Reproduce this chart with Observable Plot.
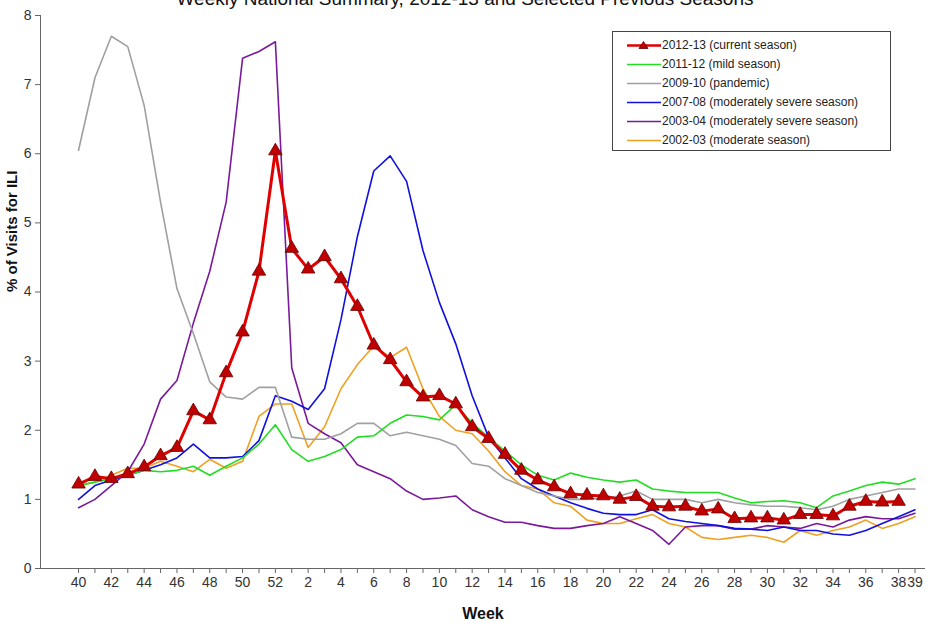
<!DOCTYPE html>
<html>
<head>
<meta charset="utf-8">
<script src="https://cdn.jsdelivr.net/npm/d3@7"></script>
<script src="https://cdn.jsdelivr.net/npm/@observablehq/plot@0.6"></script>
<style>
  body { margin: 0; background: #fff; font-family: "Liberation Sans", Arial, sans-serif; }
  #wrap { position: relative; width: 930px; height: 631px; overflow: hidden; }
  #title { position: absolute; top: -12px; left: 0; width: 930px; text-align: center; font-size: 19px; color: #111; }
  #legend { position: absolute; left: 612px; top: 31px; width: 279px; height: 120px; border: 1px solid #444; background: #fff; box-sizing: border-box; padding-top: 3px; }
  .li { display: flex; align-items: center; height: 19px; font-size: 12px; color: #222; }
  .li svg { margin-left: 14px; margin-right: 1px; }
</style>
</head>
<body>
<div id="wrap">
  <div id="chart"></div>
  <div id="title">Weekly National Summary, 2012-13 and Selected Previous Seasons</div>
  <div id="legend"></div>
</div>
<script>
// week order: 40..52 then 1..39
const weeks = [...d3.range(40, 53), ...d3.range(1, 40)];

const s2012 = [1.22,1.33,1.30,1.37,1.47,1.63,1.75,2.28,2.15,2.83,3.42,4.30,6.04,4.63,4.33,4.51,4.19,3.79,3.23,3.02,2.70,2.48,2.50,2.38,2.05,1.88,1.65,1.42,1.28,1.18,1.08,1.06,1.05,1.00,1.04,0.90,0.89,0.90,0.83,0.86,0.72,0.73,0.73,0.70,0.78,0.78,0.76,0.90,0.97,0.96,0.97];
const s2011 = [1.2,1.25,1.3,1.35,1.42,1.4,1.42,1.48,1.35,1.48,1.6,1.8,2.08,1.72,1.55,1.62,1.72,1.9,1.92,2.1,2.22,2.2,2.15,2.37,2.1,1.9,1.7,1.5,1.35,1.28,1.38,1.32,1.28,1.25,1.28,1.15,1.12,1.1,1.1,1.1,1.02,0.95,0.97,0.98,0.95,0.88,1.05,1.12,1.2,1.25,1.22,1.3];
const s2009 = [6.05,7.1,7.7,7.55,6.7,5.3,4.05,3.4,2.7,2.48,2.45,2.62,2.62,1.9,1.87,1.87,1.95,2.1,2.1,1.92,1.97,1.92,1.87,1.78,1.52,1.48,1.3,1.2,1.1,1.05,1.0,1.0,1.02,1.05,1.12,1.0,1.0,1.0,0.95,1.0,0.95,0.92,0.9,0.9,0.88,0.85,0.9,1.0,1.05,1.1,1.15,1.15];
const s2007 = [1.0,1.2,1.28,1.35,1.42,1.5,1.6,1.8,1.6,1.6,1.62,1.85,2.5,2.42,2.3,2.6,3.6,4.8,5.75,5.97,5.6,4.6,3.85,3.25,2.5,1.9,1.6,1.3,1.15,1.05,0.95,0.87,0.8,0.78,0.78,0.85,0.72,0.68,0.65,0.62,0.58,0.57,0.55,0.6,0.55,0.55,0.5,0.48,0.55,0.65,0.75,0.85];
const s2003 = [0.88,1.0,1.2,1.4,1.8,2.45,2.72,3.55,4.3,5.3,7.38,7.48,7.62,2.9,2.1,1.95,1.82,1.5,1.4,1.3,1.12,1.0,1.02,1.05,0.85,0.75,0.67,0.67,0.62,0.58,0.58,0.62,0.65,0.75,0.65,0.55,0.35,0.6,0.62,0.62,0.57,0.57,0.62,0.6,0.58,0.65,0.6,0.7,0.75,0.72,0.72,0.8];
const s2002 = [1.2,1.25,1.35,1.45,1.45,1.55,1.48,1.4,1.58,1.45,1.55,2.2,2.38,2.38,1.75,2.05,2.6,2.95,3.22,3.05,3.2,2.6,2.2,2.0,1.95,1.7,1.4,1.2,1.15,0.95,0.9,0.7,0.65,0.65,0.72,0.78,0.65,0.6,0.45,0.42,0.45,0.48,0.45,0.38,0.55,0.48,0.55,0.6,0.7,0.58,0.65,0.75];

const series = [
  { name: "2012-13 (current season)", color: "#e00000", values: s2012 },
  { name: "2011-12 (mild season)", color: "#22dd22", values: s2011 },
  { name: "2009-10 (pandemic)", color: "#a0a0a0", values: s2009 },
  { name: "2007-08 (moderately severe season)", color: "#1010dd", values: s2007 },
  { name: "2003-04 (moderately severe season)", color: "#7a1a9a", values: s2003 },
  { name: "2002-03 (moderate season)", color: "#f0a020", values: s2002 }
];

const rows = s => s.values.map((v, i) => ({ i, v }));
const labelFor = i => (i % 2 === 0 || i === 51) ? String(weeks[i]) : "";
const back = series.slice(1).reverse();

const chart = Plot.plot({
  width: 930, height: 631,
  marginLeft: 40, marginRight: 5, marginTop: 15, marginBottom: 63,
  style: { fontFamily: "Liberation Sans, Arial, sans-serif", fontSize: "14px", color: "#333" },
  x: { domain: [-2.32, 51.64], ticks: d3.range(0, 52), tickFormat: labelFor, tickSize: 5, label: null },
  y: { domain: [0, 8], ticks: d3.range(0, 9), tickSize: 5, label: null },
  marks: [
    Plot.ruleX([-2.32], { stroke: "#666" }),
    Plot.ruleY([0], { stroke: "#666" }),
    ...back.map(s => Plot.line(rows(s), { x: "i", y: "v", stroke: s.color, strokeWidth: 1.6 })),
    Plot.line(rows(series[0]), { x: "i", y: "v", stroke: series[0].color, strokeWidth: 3 }),
    Plot.dot(rows(series[0]), { x: "i", y: "v", symbol: "triangle", r: 5, fill: "#c00000", stroke: "#600", strokeWidth: 0.8 }),
    Plot.axisX({ ticks: d3.range(0, 52), tickFormat: labelFor, tickSize: 5, tickPadding: 4, stroke: "#666" }),
    Plot.axisY({ ticks: d3.range(0, 9), tickSize: 5, stroke: "#666" }),
    Plot.text(["Week"], { frameAnchor: "bottom", dy: 50, fontSize: 16, fontWeight: "bold", fill: "#111" }),
    Plot.text(["% of Visits for ILI"], { frameAnchor: "left", dx: -28, rotate: -90, fontSize: 15, fontWeight: "bold", fill: "#111" })
  ]
});
document.getElementById("chart").appendChild(chart);

const leg = document.getElementById("legend");
series.forEach((s, k) => {
  const marker = k === 0 ? `<path d="M16.5,3.5 L21,10.5 L12,10.5 Z" fill="#c00000" stroke="#600" stroke-width="0.8"/>` : "";
  leg.insertAdjacentHTML("beforeend",
    `<div class="li"><svg width="34" height="14"><line x1="0" y1="7.5" x2="34" y2="7.5" stroke="${s.color}" stroke-width="${k === 0 ? 2.5 : 1.6}"/>${marker}</svg>${s.name}</div>`);
});
</script>
</body>
</html>
